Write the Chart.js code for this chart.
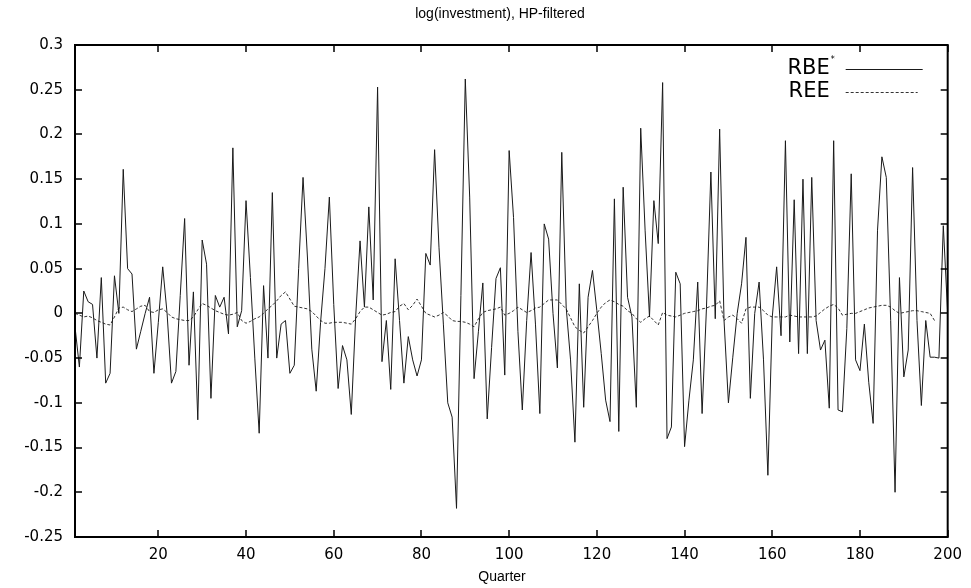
<!DOCTYPE html>
<html>
<head>
<meta charset="utf-8">
<title>log(investment), HP-filtered</title>
<script src="https://cdn.jsdelivr.net/npm/chart.js@4/dist/chart.umd.min.js"></script>
<style>
  html, body { margin: 0; padding: 0; background: #fff; }
  canvas { display: block; }
</style>
</head>
<body>
<canvas id="chart" width="971" height="588"></canvas>
<script>
"use strict";
/* ---------------------- DATA --------------------*/
var quarters = [];
for (var q = 1; q <= 200; q++) quarters.push(q);

var xTicks = [20, 40, 60, 80, 100, 120, 140, 160, 180, 200];
var yTicks = [-0.25, -0.2, -0.15, -0.1, -0.05, 0, 0.05, 0.1, 0.15, 0.2, 0.25, 0.3];

// RBE* (solid)
var rbe = [
  -0.015, -0.06, 0.025, 0.013, 0.010, -0.05, 0.040, -0.078, -0.067, 0.042,
  0.0, 0.161, 0.05, 0.044, -0.04, -0.02, 0.0, 0.018, -0.067, -0.01,
  0.052, 0.0, -0.078, -0.065, 0.02, 0.106, -0.058, 0.024, -0.119, 0.082,
  0.055, -0.095, 0.02, 0.007, 0.018, -0.023, 0.185, -0.015, 0.003, 0.126,
  0.04, -0.05, -0.134, 0.031, -0.05, 0.135, -0.05, -0.012, -0.008, -0.067,
  -0.058, 0.05, 0.152, 0.063, -0.04, -0.087, -0.01, 0.05, 0.13, 0.01,
  -0.084, -0.036, -0.052, -0.113, -0.004, 0.081, 0.007, 0.119, 0.015, 0.253,
  -0.054, -0.008, -0.085, 0.061, -0.008, -0.078, -0.026, -0.052, -0.07, -0.052,
  0.067, 0.054, 0.183, 0.074, -0.012, -0.1, -0.116, -0.218, 0.02, 0.262,
  0.13, -0.073, -0.02, 0.034, -0.118, -0.038, 0.039, 0.051, -0.069, 0.182,
  0.107, -0.02, -0.108, -0.008, 0.068, -0.012, -0.112, 0.1, 0.083, 0.0,
  -0.061, 0.18, 0.007, -0.052, -0.144, 0.033, -0.105, 0.018, 0.048, 0.003,
  -0.045, -0.097, -0.121, 0.128, -0.132, 0.141, 0.018, -0.004, -0.105, 0.207,
  0.093, -0.004, 0.126, 0.078, 0.258, -0.14, -0.127, 0.046, 0.033, -0.149,
  -0.097, -0.052, 0.035, -0.112, 0.007, 0.158, -0.006, 0.206, -0.008, -0.1,
  -0.049, 0.0, 0.033, 0.085, -0.095, 0.0, 0.035, -0.052, -0.181, -0.004,
  0.052, -0.025, 0.193, -0.032, 0.127, -0.045, 0.15, -0.045, 0.152, -0.008,
  -0.041, -0.03, -0.106, 0.193, -0.108, -0.11, -0.017, 0.156, -0.052, -0.064,
  -0.012, -0.077, -0.123, 0.093, 0.175, 0.152, -0.008, -0.2, 0.04, -0.071,
  -0.041, 0.163, -0.008, -0.103, -0.008, -0.049, -0.049, -0.05, 0.098, 0.0
];

// REE (dashed), ends before the last quarters
var ree = [
  0.0, -0.002, -0.004, -0.003, -0.005, -0.008, -0.010, -0.012, -0.013, -0.004,
  0.006, 0.007, 0.004, 0.002, 0.005, 0.008, 0.009, 0.002, 0.001, 0.004,
  0.005, 0.001, -0.004, -0.006, -0.007, -0.008, -0.008, -0.004, 0.004, 0.011,
  0.009, 0.006, 0.003, 0.001, -0.001, -0.002, -0.001, 0.001, -0.008, -0.011,
  -0.009, -0.006, -0.004, 0.0, 0.005, 0.009, 0.014, 0.020, 0.024, 0.016,
  0.008, 0.007, 0.006, 0.005, 0.002, -0.003, -0.008, -0.011, -0.011, -0.010,
  -0.010, -0.010, -0.011, -0.012, -0.006, 0.002, 0.007, 0.007, 0.004, 0.001,
  -0.002, -0.001, 0.001, 0.002, 0.008, 0.011, 0.004, 0.009, 0.016, 0.008,
  0.0, -0.002, -0.004, -0.002, 0.001, -0.003, -0.008, -0.009, -0.009, -0.010,
  -0.012, -0.015, -0.006, 0.001, 0.003, 0.004, 0.005, 0.007, -0.002, 0.0,
  0.003, 0.007, 0.004, 0.001, 0.003, 0.006, 0.007, 0.011, 0.015, 0.015,
  0.015, 0.010, 0.005, -0.005, -0.015, -0.019, -0.022, -0.015, -0.008, 0.0,
  0.007, 0.012, 0.015, 0.013, 0.010, 0.008, 0.003, 0.0, -0.006, -0.010,
  -0.006, -0.003, -0.008, -0.013, 0.001, -0.002, -0.003, -0.004, -0.002, 0.0,
  0.001, 0.002, 0.003, 0.005, 0.006, 0.008, 0.009, 0.014, -0.008, -0.004,
  -0.002, -0.006, -0.011, 0.005, 0.007, 0.007, 0.007, 0.003, -0.002, -0.004,
  -0.004, -0.004, -0.004, -0.002, -0.003, -0.004, -0.004, -0.004, -0.004, -0.003,
  0.001, 0.005, 0.008, 0.010, 0.006, -0.002, -0.001, 0.0, 0.0, 0.002,
  0.004, 0.006, 0.007, 0.008, 0.009, 0.009, 0.007, 0.003, 0.0, 0.001,
  0.002, 0.003, 0.003, 0.002, 0.001, 0.0, -0.008, null, null, null
];

function toPoints(values) {
  return quarters.map(function(q, i) { return { x: q, y: values[i] }; });
}

/* ---------------------- FRAME, TITLE, LEGEND --------------------*/
var framePlugin = {
  id: "frame",
  afterDraw: function(chart) {
    var ctx = chart.ctx;
    var a = chart.chartArea;
    var xs = chart.scales.x, ys = chart.scales.y;
    ctx.save();

    // box
    ctx.strokeStyle = "#000";
    ctx.lineWidth = 2;
    ctx.strokeRect(a.left, a.top, a.right - a.left, a.bottom - a.top);

    // inward ticks on all four sides
    ctx.lineWidth = 1.5;
    ctx.beginPath();
    xs.ticks.forEach(function(t) {
      var px = Math.round(xs.getPixelForValue(t.value));
      ctx.moveTo(px, a.bottom); ctx.lineTo(px, a.bottom - 7);
      ctx.moveTo(px, a.top); ctx.lineTo(px, a.top + 7);
    });
    ys.ticks.forEach(function(t) {
      var py = Math.round(ys.getPixelForValue(t.value));
      ctx.moveTo(a.left, py); ctx.lineTo(a.left + 7, py);
      ctx.moveTo(a.right, py); ctx.lineTo(a.right - 7, py);
    });
    ctx.stroke();

    // title and x label
    ctx.fillStyle = "#000";
    ctx.textAlign = "center";
    ctx.textBaseline = "middle";
    ctx.font = "14px 'Liberation Sans', Arial, sans-serif";
    ctx.fillText("log(investment), HP-filtered", 500, 14);
    ctx.fillText("Quarter", 502, 577);

    // legend: text then line sample
    chart.data.datasets.forEach(function(ds, i) {
      var rowY = a.top + 24 + i * 23;
      var label = ds.label;
      var sup = "";
      if (label.slice(-1) === "*") { sup = "*"; label = label.slice(0, -1); }
      ctx.font = "21px 'DejaVu Sans', sans-serif";
      ctx.textAlign = "right";
      ctx.textBaseline = "middle";
      ctx.fillText(label, a.right - 118, rowY);
      if (sup) {
        ctx.font = "8px 'DejaVu Sans', sans-serif";
        ctx.textAlign = "left";
        ctx.fillText(sup, a.right - 117, rowY - 9);
      }
      ctx.strokeStyle = ds.borderColor;
      ctx.lineWidth = 1;
      ctx.setLineDash(ds.borderDash || []);
      ctx.beginPath();
      ctx.moveTo(a.right - 102, rowY + 0.5);
      ctx.lineTo(a.right - (ds.borderDash ? 30 : 25), rowY + 0.5);
      ctx.stroke();
      ctx.setLineDash([]);
    });
    ctx.restore();
  }
};

/* ---------------------- CHART --------------------*/
var ctx = document.getElementById("chart").getContext("2d");
var chart = new Chart(ctx, {
  type: "line",
  data: {
    datasets: [{
      label: "RBE*",
      data: toPoints(rbe),
      borderColor: "#1a1a1a",
      borderWidth: 1,
      pointRadius: 0,
      tension: 0,
      spanGaps: false
    },
    {
      label: "REE",
      data: toPoints(ree),
      borderColor: "#333333",
      borderWidth: 1,
      borderDash: [3, 2],
      pointRadius: 0,
      tension: 0,
      spanGaps: false
    }]
  },
  options: {
    responsive: false,
    animation: false,
    events: [],
    layout: { padding: { left: 0, right: 21, top: 45, bottom: 0 } },
    plugins: {
      legend: { display: false },
      title: { display: false },
      tooltip: { enabled: false }
    },
    scales: {
      x: {
        type: "linear",
        min: 1,
        max: 200,
        grid: { display: false, drawTicks: false },
        border: { display: false },
        afterBuildTicks: function(scale) {
          scale.ticks = xTicks.map(function(v) { return { value: v }; });
        },
        afterFit: function(scale) { scale.height = 51; },
        ticks: {
          padding: 9,
          color: "#000",
          maxRotation: 0,
          font: { family: "'DejaVu Sans', sans-serif", size: 15 }
        }
      },
      y: {
        min: -0.25,
        max: 0.3,
        grid: { display: false, drawTicks: false },
        border: { display: false },
        afterBuildTicks: function(scale) {
          scale.ticks = yTicks.map(function(v) { return { value: v }; });
        },
        afterFit: function(scale) { scale.width = 75; },
        ticks: {
          padding: 12,
          color: "#000",
          font: { family: "'DejaVu Sans', sans-serif", size: 15 },
          callback: function(v) { return String(parseFloat(Number(v).toFixed(2))); }
        }
      }
    }
  },
  plugins: [framePlugin]
});
</script>
</body>
</html>
